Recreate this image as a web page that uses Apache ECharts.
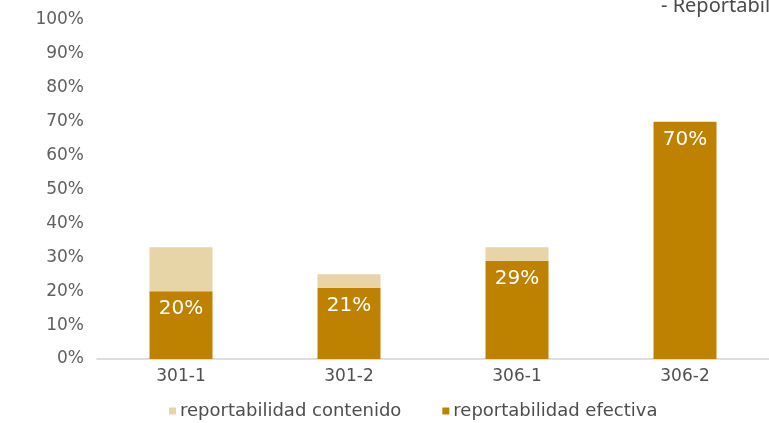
<!DOCTYPE html>
<html>
<head>
<meta charset="utf-8">
<script src="https://cdn.jsdelivr.net/npm/echarts@6/dist/echarts.min.js"></script>
<style>
html,body{margin:0;padding:0;background:#fff;}
#chart{width:769px;height:423px;}
</style>
</head>
<body>
<div id="chart"></div>
<script>
const categories = ['301-1', '301-2', '306-1', '306-2'];
const efectiva = [20, 21, 29, 70];
const contenido = [13, 4, 4, 0];
const yTicks = [0, 10, 20, 30, 40, 50, 60, 70, 80, 90, 100];
const seriesNames = ['reportabilidad contenido', 'reportabilidad efectiva'];
const titleText = '- Reportabilidad';

const FONT = 'DejaVu Sans';
const chart = echarts.init(document.getElementById('chart'), null, {renderer: 'canvas'});
chart.setOption({
  animation: false,
  backgroundColor: '#ffffff',
  title: {
    text: titleText,
    left: 656,
    top: -9,
    textStyle: {fontFamily: 'Noto Sans', fontSize: 20, fontWeight: 'normal', color: '#4a4a4a'}
  },
  grid: {left: 97, right: -2, top: 20, bottom: 64, containLabel: false},
  legend: {
    data: [seriesNames[0], seriesNames[1]],
    left: 164,
    top: 397,
    itemWidth: 7,
    itemHeight: 7,
    itemGap: 41,
    icon: 'rect',
    textStyle: {fontFamily: FONT, fontSize: 18, color: '#4d4d4d', padding: [0, 0, 0, -1]}
  },
  xAxis: {
    type: 'category',
    data: categories,
    axisLine: {lineStyle: {color: '#d4d4d4', width: 1.5}},
    axisTick: {show: false},
    axisLabel: {fontFamily: FONT, fontSize: 17, color: '#505050', margin: 9}
  },
  yAxis: {
    type: 'value',
    min: yTicks[0],
    max: yTicks[yTicks.length - 1],
    interval: 10,
    splitLine: {show: false},
    axisLine: {show: false},
    axisTick: {show: false},
    axisLabel: {fontFamily: FONT, fontSize: 17, color: '#606060', margin: 13, formatter: '{value}%'}
  },
  series: [
    {
      name: seriesNames[1],
      type: 'bar',
      stack: 'total',
      data: efectiva,
      barWidth: '37.5%',
      itemStyle: {color: '#BF8200'},
      label: {
        show: true,
        position: 'insideTop',
        distance: 8,
        formatter: '{c}%',
        fontFamily: FONT,
        fontSize: 20,
        color: '#ffffff'
      }
    },
    {
      name: seriesNames[0],
      type: 'bar',
      stack: 'total',
      data: contenido,
      barWidth: '37.5%',
      itemStyle: {color: '#E7D4A7'}
    }
  ]
});
</script>
</body>
</html>
